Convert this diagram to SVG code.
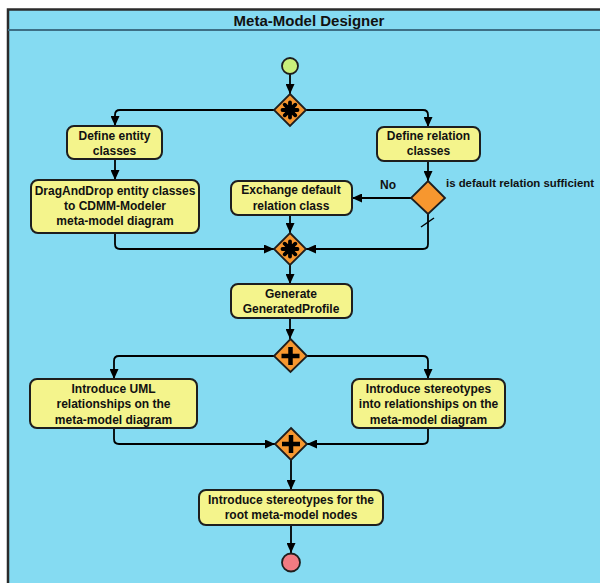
<svg xmlns="http://www.w3.org/2000/svg" width="600" height="583" viewBox="0 0 600 583">
<defs>
<marker id="arr" markerUnits="userSpaceOnUse" markerWidth="11" markerHeight="9" refX="10" refY="4.5" orient="auto">
<path d="M0,0 L10,4.5 L0,9 z" fill="#000"/>
</marker>
<style>
.frame{fill:#85dbf2;stroke:#2b2b2b;stroke-width:2.5}
.act{fill:#f4f48c;stroke:#1e1e1e;stroke-width:2}
.gw{fill:#f7972f;stroke:#1e1e1e;stroke-width:1.8}
.t{font-family:"Liberation Sans",Arial,sans-serif;font-weight:bold;font-size:12px;fill:#111;text-anchor:middle}
.lbl{font-family:"Liberation Sans",Arial,sans-serif;font-weight:bold;font-size:12px;fill:#111}
.e{fill:none;stroke:#000;stroke-width:1.8;marker-end:url(#arr)}
.star line{stroke:#000;stroke-width:3.8;stroke-linecap:round}
.plus{stroke:#000;stroke-width:4.5;fill:none}
</style>
</defs>
<g id="frame">
<rect class="frame" x="8" y="9.5" width="600" height="590"/>
<line x1="8" y1="30" x2="600" y2="30" stroke="#3d6f85" stroke-width="2"/>
<text x="309" y="26" style="font-family:'Liberation Sans',Arial,sans-serif;font-weight:bold;font-size:15px;fill:#111;text-anchor:middle">Meta-Model Designer</text>
</g>
<g id="connectors">
<path class="e" d="M290,74 V94"/>
<path class="e" d="M274,110 H120 Q115,110 115,115 V126"/>
<path class="e" d="M306,110 H423 Q428,110 428,115 V127"/>
<path class="e" d="M115,159 V180"/>
<path class="e" d="M428,161 V181"/>
<path class="e" d="M411,198 H352"/>
<path class="e" d="M428,214 V244 Q428,249 423,249 H306"/>
<line x1="421" y1="227" x2="434" y2="218" stroke="#000" stroke-width="1.5"/>
<path class="e" d="M115,233 V244 Q115,249 120,249 H274"/>
<path class="e" d="M290,215 V233"/>
<path class="e" d="M290,265 V284"/>
<path class="e" d="M290,318 V339"/>
<path class="e" d="M274,356 H119 Q114,356 114,361 V379"/>
<path class="e" d="M307,356 H423 Q428,356 428,361 V379"/>
<path class="e" d="M114,428 V439 Q114,444 119,444 H275"/>
<path class="e" d="M428,428 V439 Q428,444 423,444 H307"/>
<path class="e" d="M291,460 V490"/>
<path class="e" d="M291,525 V553"/>
<text class="lbl" x="380" y="189">No</text>
<text class="lbl" x="446" y="187" style="font-size:11.4px">is default relation sufficient</text>
</g>
<g id="start"><circle cx="290" cy="66" r="8" fill="#c9ef7b" stroke="#1e1e1e" stroke-width="1.8"/></g>
<g id="gw1">
<path class="gw" d="M290,94 L306,110 L290,126 L274,110 z"/>
<g class="star"><line x1="282.5" y1="110" x2="297.5" y2="110"/><line x1="290" y1="102.5" x2="290" y2="117.5"/><line x1="284.7" y1="104.7" x2="295.3" y2="115.3"/><line x1="284.7" y1="115.3" x2="295.3" y2="104.7"/></g>
<circle cx="290" cy="110" r="5" fill="#000"/>
</g>
<g id="defineEntity">
<rect class="act" x="67" y="126" width="95" height="33" rx="7"/>
<text class="t" x="114.5" y="139.5">Define entity</text>
<text class="t" x="114.5" y="154.5">classes</text>
</g>
<g id="defineRelation">
<rect class="act" x="377" y="127" width="103" height="34" rx="7"/>
<text class="t" x="428.5" y="140">Define relation</text>
<text class="t" x="428.5" y="155">classes</text>
</g>
<g id="dragDrop">
<rect class="act" x="31" y="180" width="168" height="53" rx="7"/>
<text class="t" x="115" y="194.5">DragAndDrop entity classes</text>
<text class="t" x="115" y="209.5">to CDMM-Modeler</text>
<text class="t" x="115" y="225">meta-model diagram</text>
</g>
<g id="decision">
<path class="gw" d="M428,181 L445,198 L428,214 L411,198 z"/>
</g>
<g id="exchange">
<rect class="act" x="231" y="181" width="121" height="34" rx="7"/>
<text class="t" x="291" y="194">Exchange default</text>
<text class="t" x="291" y="209.5">relation class</text>
</g>
<g id="gw2">
<path class="gw" d="M290,233 L306,249 L290,265 L274,249 z"/>
<g class="star"><line x1="282.5" y1="249" x2="297.5" y2="249"/><line x1="290" y1="241.5" x2="290" y2="256.5"/><line x1="284.7" y1="243.7" x2="295.3" y2="254.3"/><line x1="284.7" y1="254.3" x2="295.3" y2="243.7"/></g>
<circle cx="290" cy="249" r="5" fill="#000"/>
</g>
<g id="generate">
<rect class="act" x="231" y="284" width="121" height="34" rx="7"/>
<text class="t" x="291" y="297.5">Generate</text>
<text class="t" x="291" y="312.5">GeneratedProfile</text>
</g>
<g id="gw3">
<path class="gw" d="M290.5,339 L307,356 L290.5,372 L274,356 z"/>
<path class="plus" d="M281.5,356 H299.5 M290.5,347 V365"/>
</g>
<g id="introUML">
<rect class="act" x="30" y="379" width="167" height="49" rx="7"/>
<text class="t" x="113.5" y="392.5">Introduce UML</text>
<text class="t" x="113.5" y="408">relationships on the</text>
<text class="t" x="113.5" y="423.5">meta-model diagram</text>
</g>
<g id="introStereo">
<rect class="act" x="352" y="379" width="153" height="49" rx="7"/>
<text class="t" x="428.5" y="392.5">Introduce stereotypes</text>
<text class="t" x="428.5" y="408">into relationships on the</text>
<text class="t" x="428.5" y="423.5">meta-model diagram</text>
</g>
<g id="gw4">
<path class="gw" d="M291,428 L307,444 L291,460 L275,444 z"/>
<path class="plus" d="M282,444 H300 M291,435 V453"/>
</g>
<g id="introRoot">
<rect class="act" x="199" y="490" width="184" height="35" rx="7"/>
<text class="t" x="291" y="503.5">Introduce stereotypes for the</text>
<text class="t" x="291" y="519">root meta-model nodes</text>
</g>
<g id="end"><circle cx="291" cy="562.5" r="9" fill="#f27b82" stroke="#1e1e1e" stroke-width="1.8"/></g>
</svg>
